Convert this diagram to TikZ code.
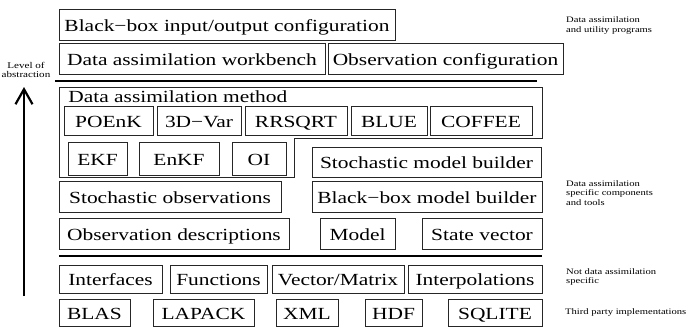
\documentclass[tikz,border=0pt]{standalone}
\usepackage{fontspec}
\setmainfont{Liberation Serif}[FakeStretch=1.26]
\usetikzlibrary{arrows.meta}
\begin{document}
\begin{tikzpicture}[x=1bp, y=-1bp,
                    thin,
                    align=center,
                    every node/.style={text centered, inner sep=0pt},
                    blk/.style={draw=black!85, line width=0.8bp, text height=13bp, text depth=0bp,
                                font=\fontsize{17bp}{20bp}\selectfont},
                    note/.style={anchor=west, align=left, font=\fontsize{8.4bp}{9.4bp}\selectfont},
                    sep/.style={line width=2.6bp}]
      \useasboundingbox (0,0) rectangle (688,327);
      \coordinate (up) at (24,87);
      \coordinate (down) at (24,296);
      \coordinate (s1a) at (55,81);
      \coordinate (s1b) at (537,81);
      \coordinate (s2a) at (59,256);
      \coordinate (s2b) at (542,256);
      \node[blk, minimum width=336bp, minimum height=31bp] (bbio) at (227,24.5) {Black−box input/output configuration};
      \node[blk, minimum width=266bp, minimum height=31bp] (workbench) at (192,58.5) {Data assimilation workbench};
      \node[blk, minimum width=235bp, minimum height=31bp] (obsconf) at (445.5,58.5) {Observation configuration};
      \draw[sep] (s1a) -- (s1b);
      \draw[draw=black!85, line width=0.8bp] (59,87) -- (542,87) -- (542,138) -- (294,138) -- (294,177) -- (59,177) -- cycle;
      \node[blk, draw=none, anchor=west] (method) at (68,95.5) {Data assimilation method};
      \node[blk, minimum width=89bp, minimum height=29bp] (poenk) at (108.5,120.5) {POEnK};
      \node[blk, minimum width=84bp, minimum height=29bp] (tdvar) at (199,120.5) {3D−Var};
      \node[blk, minimum width=102bp, minimum height=29bp] (rrsqrt) at (296,120.5) {RRSQRT};
      \node[blk, minimum width=76bp, minimum height=29bp] (blue) at (389,120.5) {BLUE};
      \node[blk, minimum width=102bp, minimum height=29bp] (coffee) at (481,120.5) {COFFEE};
      \node[blk, minimum width=59bp, minimum height=33bp] (ekf) at (97.5,158.5) {EKF};
      \node[blk, minimum width=80bp, minimum height=33bp] (enkf) at (179,158.5) {EnKF};
      \node[blk, minimum width=54bp, minimum height=33bp] (oi) at (259,158.5) {OI};
      \node[blk, minimum width=229bp, minimum height=30bp] (stochmodel) at (426.5,162) {Stochastic model builder};
      \node[blk, minimum width=222bp, minimum height=31bp] (stochobs) at (170,196.5) {Stochastic observations};
      \node[blk, minimum width=230bp, minimum height=31bp] (bbmodel) at (427,196.5) {Black−box model builder};
      \node[blk, minimum width=230bp, minimum height=31bp] (obsdesc) at (174,233.5) {Observation descriptions};
      \node[blk, minimum width=75bp, minimum height=31bp] (model) at (357.5,233.5) {Model};
      \node[blk, minimum width=120bp, minimum height=31bp] (state) at (482,233.5) {State vector};
      \draw[sep] (s2a) -- (s2b);
      \node[blk, minimum width=103bp, minimum height=28bp] (interfaces) at (110.5,279) {Interfaces};
      \node[blk, minimum width=97bp, minimum height=28bp] (functions) at (218.5,279) {Functions};
      \node[blk, minimum width=132bp, minimum height=28bp] (vecmat) at (338,279) {Vector/Matrix};
      \node[blk, minimum width=134bp, minimum height=28bp] (interp) at (475,279) {Interpolations};
      \node[blk, minimum width=71bp, minimum height=27.5bp] (blas) at (94.5,312.75) {BLAS};
      \node[blk, minimum width=101bp, minimum height=27.5bp] (lapack) at (203.5,312.75) {LAPACK};
      \node[blk, minimum width=62bp, minimum height=27.5bp] (xml) at (307,312.75) {XML};
      \node[blk, minimum width=57bp, minimum height=27.5bp] (hdf) at (393.5,312.75) {HDF};
      \node[blk, minimum width=94bp, minimum height=27.5bp] (sqlite) at (495,312.75) {SQLITE};
      \draw[-{Straight Barb[length=15bp, width=17bp, line width=2.2bp]}, line width=2.4bp] (down) -- (up);
      \node[font=\fontsize{8.8bp}{9.6bp}\selectfont] (level) at (26,70) {Level of\\abstraction};
      \node[note] (toplabel) at (566,25.5) {Data assimilation\\and utility programs};
      \node[note] (midlabel) at (566,193) {Data assimilation\\specific components\\and tools};
      \node[note] (lowlabel) at (566,277) {Not data assimilation\\specific};
      \node[note] (thirdlabel) at (565,312) {Third party implementations};
\end{tikzpicture}
\end{document}
